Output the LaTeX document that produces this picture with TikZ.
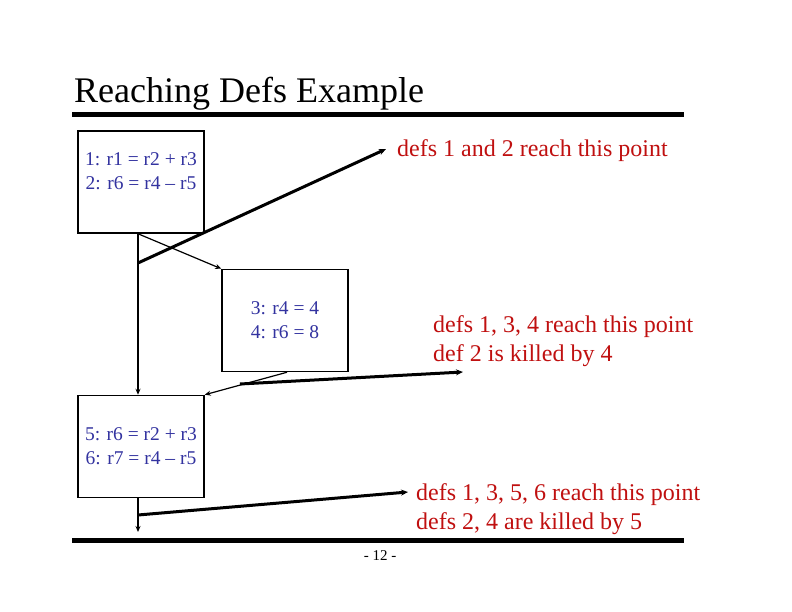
\documentclass[tikz,border=0pt]{standalone}
\usepackage{fontspec}
\setmainfont{Liberation Serif}
\usetikzlibrary{arrows.meta}
\definecolor{lblred}{RGB}{192,16,16}
\definecolor{codeblue}{RGB}{51,51,160}
\begin{document}
\begin{tikzpicture}[x=1pt,y=-1pt,
  blk/.style={draw, line width=1.5pt, minimum width=126pt, minimum height=102pt, inner sep=0pt, text=codeblue, font=\fontsize{19.5}{24}\selectfont, align=center},
  code/.style={text=codeblue, font=\fontsize{19.5}{24}\selectfont, align=center, inner sep=0pt},
  flow/.style={line width=1.2pt, -{Stealth[length=6pt,width=5pt]}},
  note/.style={line width=3pt, -{Stealth[length=7pt,width=6pt]}},
  lbl/.style={text=lblred, font=\fontsize{24}{29}\selectfont, anchor=base west, inner sep=0pt},
  rulestyle/.style={line width=5pt}]
\useasboundingbox (0,0) rectangle (792,612);
\fill[white] (0,0) rectangle (792,612);
% title and rules
\node[anchor=base west, inner sep=0pt, font=\fontsize{36}{40}\selectfont] (title) at (74,103) {Reaching Defs Example};
\coordinate (r1a) at (72,114.5);
\coordinate (r1b) at (684,114.5);
\draw[rulestyle] (r1a) -- (r1b);
\coordinate (r2a) at (72,540.5);
\coordinate (r2b) at (684,540.5);
\draw[rulestyle] (r2a) -- (r2b);
\node[font=\fontsize{15}{18}\selectfont, inner sep=0pt] (pg) at (380,556) {- 12 -};
% blocks
\node[blk] (b1) at (141,182) {};
\node[code] (t1) at (141,171) {1: r1 = r2 + r3\\2: r6 = r4 – r5};
\node[blk] (b2) at (285,320.5) {3: r4 = 4\\4: r6 = 8};
\node[blk] (b3) at (141,446.5) {5: r6 = r2 + r3\\6: r7 = r4 – r5};
% flow edges
\draw[flow] ([xshift=-3pt]b1.south) -- ([xshift=-3pt]b3.north);
\draw[flow] ([xshift=-3pt]b1.south) -- (b2.north west);
\draw[flow] ([xshift=2pt]b2.south) -- (b3.north east);
\coordinate (e3) at (138,532);
\draw[flow] ([xshift=-3pt]b3.south) -- (e3);
% labels
\node[lbl] (n1) at (397,157) {defs 1 and 2 reach this point};
\node[lbl] (n2a) at (433,332) {defs 1, 3, 4 reach this point};
\node[lbl] (n2b) at (433,361) {def 2 is killed by 4};
\node[lbl] (n3a) at (416,500) {defs 1, 3, 5, 6 reach this point};
\node[lbl] (n3b) at (416,529) {defs 2, 4 are killed by 5};
% pointer arrows
\coordinate (p1) at (138,263);
\coordinate (a1) at (386,149);
\draw[note] (p1) -- (a1);
\coordinate (p2) at (240,384);
\coordinate (a2) at (463,372);
\draw[note] (p2) -- (a2);
\coordinate (p3) at (138,515);
\coordinate (a3) at (408,492);
\draw[note] (p3) -- (a3);
\end{tikzpicture}
\end{document}
